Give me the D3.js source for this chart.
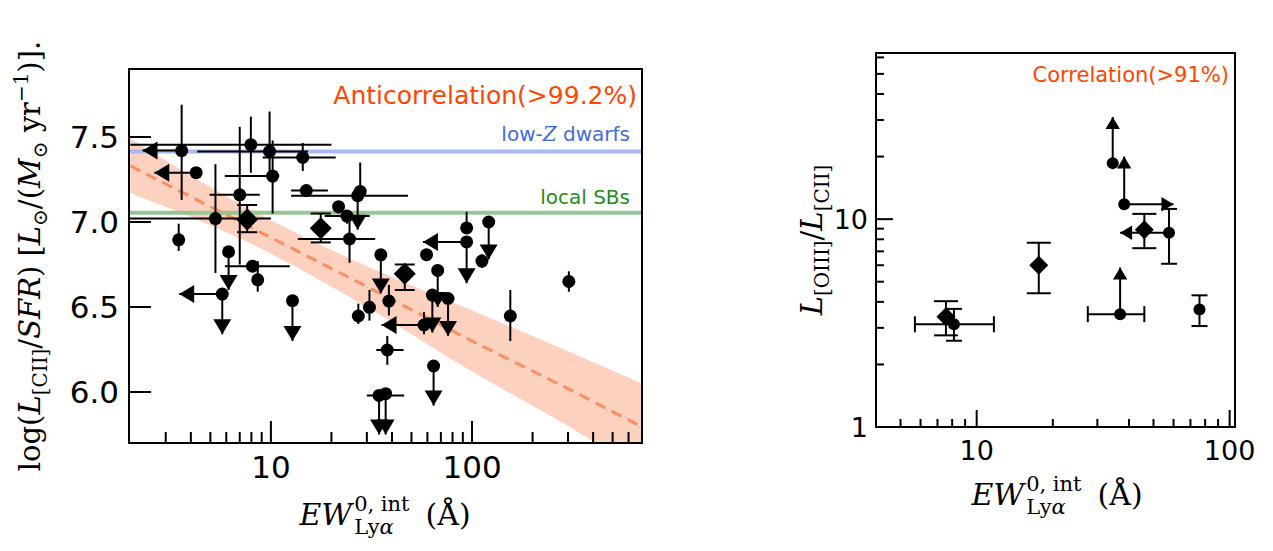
<!DOCTYPE html>
<html><head><meta charset="utf-8">
<script src="https://cdn.jsdelivr.net/npm/d3@7"></script>
<style>body{margin:0;background:#fff}svg{font-family:"DejaVu Sans",sans-serif}</style>
</head><body><svg id="fig" width="1273" height="551"></svg>
<script>
// left panel: circles  [x, y, xlo, xhi, ylo, yhi, leftArrowTo, downArrowTo]
const leftCircles = [
  [3.6, 7.42, null, null, 7.13, 7.69, 2.3, null],
  [4.25, 7.29, null, null, null, null, 2.63, null],
  [7.95, 7.455, 2.0, 20, 7.29, 7.62, null, null],
  [9.85, 7.415, 4.3, 15.3, 7.27, 7.65, null, null],
  [14.4, 7.38, 9.1, 21, 7.30, 7.465, null, null],
  [10.2, 7.27, 5.9, 11.0, 7.05, 7.48, null, null],
  [15.0, 7.185, 12.6, 19.2, null, null, null, null],
  [7.0, 7.16, 4.95, 8.8, 6.75, 7.56, null, null],
  [5.3, 7.02, 1.97, 10, 6.70, 7.34, null, null],
  [3.48, 6.895, null, null, 6.83, 6.99, null, null],
  [6.16, 6.825, null, null, null, null, null, 6.6],
  [8.1, 6.74, 5.9, 12.4, 6.71, 6.77, null, null],
  [8.6, 6.66, null, null, 6.59, 6.77, null, null],
  [5.73, 6.576, null, null, null, null, 3.5, 6.34],
  [12.8, 6.537, null, null, null, null, null, 6.3],
  [24.6, 6.90, 13.6, 33, 6.76, 7.05, null, null],
  [21.7, 7.09, null, null, 7.05, 7.12, null, null],
  [23.9, 7.035, 18.5, 31, 6.99, 7.07, null, null],
  [27.8, 7.18, null, null, null, 7.35, null, null],
  [27.0, 7.155, 12.6, 48, null, null, null, 6.955],
  [35.2, 6.807, null, null, null, null, null, 6.58],
  [30.9, 6.498, null, null, 6.42, 6.60, null, null],
  [27.2, 6.447, null, null, 6.40, 6.52, null, null],
  [38.6, 6.535, null, null, 6.45, 6.63, null, null],
  [59.4, 6.808, null, null, 6.77, 6.84, null, null],
  [94, 6.883, null, null, null, null, 57, 6.64],
  [94, 6.965, null, null, null, 7.06, null, null],
  [121, 7.0, null, null, null, null, null, 6.78],
  [112, 6.77, null, null, 6.73, 6.81, null, null],
  [67.5, 6.715, null, null, null, null, null, 6.5],
  [63.5, 6.57, null, null, null, null, null, 6.35],
  [76, 6.55, null, null, null, null, null, 6.33],
  [57.7, 6.394, null, null, 6.34, 6.47, 35.5, null],
  [37.9, 6.247, 33.4, 45.7, 6.16, 6.33, null, null],
  [64.4, 6.153, null, null, null, null, null, 5.92],
  [34.5, 5.98, 30, 46, null, null, null, 5.75],
  [37.2, 5.99, null, null, null, null, null, 5.75],
  [155, 6.447, null, null, 6.30, 6.60, null, null],
  [303, 6.65, 285, 322, 6.59, 6.71, null, null]
];
// left panel: stacked diamonds [x, y, ylo, yhi]
const leftDiamonds = [
  [7.62, 7.015, 6.94, 7.10],
  [17.7, 6.963, 6.88, 7.05],
  [46.3, 6.695, 6.60, 6.75]
];
const lowZLevel = 7.415, localSBLevel = 7.055;
// anticorrelation fit and 1-sigma band
const fitX = [2, 8, 30, 100, 300, 700];
const fitMid = [7.33, 6.967, 6.62, 6.30, 6.02, 5.795];
const fitLo = [7.17, 6.87, 6.50, 6.12, 5.80, 5.53];
const fitHi = [7.49, 7.07, 6.74, 6.48, 6.24, 6.05];

// right panel circles [x, y, xlo, xhi, ylo, yhi, upArrowTo, rightArrowTo, leftArrowTo]
const rightCircles = [
  [8.13, 3.12, 5.7, 11.7, 2.6, 3.7, null, null, null],
  [34.5, 18.6, null, null, null, null, 31, null, null],
  [38.3, 11.8, null, null, null, null, 20, 60, null],
  [57.6, 8.6, null, null, 6.1, 11.2, null, null, 36.9],
  [36.9, 3.49, 27.5, 46, null, null, 5.85, null, null],
  [76, 3.68, null, null, 3.06, 4.3, null, null, null]
];
const rightDiamonds = [
  [7.56, 3.39, 2.76, 4.03],
  [17.6, 6.0, 4.4, 7.7],
  [46, 8.9, 7.25, 10.6]
];

const svg = d3.select("#fig");

// ---------- left panel ----------
const L = {x0: 129, x1: 642, y0: 69, y1: 443};
const xL = d3.scaleLog().domain([1.97, 700]).range([L.x0, L.x1]);
const yL = d3.scaleLinear().domain([5.70, 7.90]).range([L.y1, L.y0]);
const gL = svg.append("g");
gL.append("clipPath").attr("id", "clipL").append("rect")
  .attr("x", L.x0).attr("y", L.y0).attr("width", L.x1 - L.x0).attr("height", L.y1 - L.y0);
const inL = gL.append("g").attr("clip-path", "url(#clipL)");

const band = fitX.map((x, i) => ({x, lo: fitLo[i], hi: fitHi[i], mid: fitMid[i]}));
inL.append("path").datum(band)
  .attr("d", d3.area().x(d => xL(d.x)).y0(d => yL(d.lo)).y1(d => yL(d.hi)).curve(d3.curveMonotoneX))
  .attr("fill", "#fdc6b0").attr("opacity", 0.8);
inL.append("line").attr("x1", L.x0).attr("x2", L.x1).attr("y1", yL(lowZLevel)).attr("y2", yL(lowZLevel))
  .attr("stroke", "#a9b9ef").attr("stroke-width", 4);
inL.append("line").attr("x1", L.x0).attr("x2", L.x1).attr("y1", yL(localSBLevel)).attr("y2", yL(localSBLevel))
  .attr("stroke", "#93c793").attr("stroke-width", 4);
inL.append("path").datum(band)
  .attr("d", d3.line().x(d => xL(d.x)).y(d => yL(d.mid)))
  .attr("fill", "none").attr("stroke", "#fb8d5f").attr("stroke-width", 3).attr("stroke-dasharray", "11,7");

function arrow(g, x1, y1, x2, y2, head) {
  g.append("line").attr("x1", x1).attr("y1", y1).attr("x2", x2).attr("y2", y2)
    .attr("stroke", "#000").attr("stroke-width", 2);
  const a = Math.atan2(y2 - y1, x2 - x1), h = head, w = head * 0.6;
  const tip = [x2, y2];
  const b1 = [x2 - h * Math.cos(a) + w * Math.sin(a), y2 - h * Math.sin(a) - w * Math.cos(a)];
  const b2 = [x2 - h * Math.cos(a) - w * Math.sin(a), y2 - h * Math.sin(a) + w * Math.cos(a)];
  g.append("path").attr("d", `M${tip}L${b1}L${b2}Z`).attr("fill", "#000");
}
function seg(g, x1, y1, x2, y2) {
  g.append("line").attr("x1", x1).attr("y1", y1).attr("x2", x2).attr("y2", y2)
    .attr("stroke", "#000").attr("stroke-width", 2);
}
function diamond(g, cx, cy, r) {
  g.append("path").attr("d", `M${cx},${cy - r}L${cx + r},${cy}L${cx},${cy + r}L${cx - r},${cy}Z`).attr("fill", "#000");
}

const mk = inL.append("g");
leftCircles.forEach(d => {
  const [x, y, xl, xh, yl, yh, la, da] = d;
  const cx = xL(x), cy = yL(y);
  if (xl != null) seg(mk, xL(xl), cy, xL(xh), cy);
  if (yl != null || yh != null) seg(mk, cx, yL(yl ?? y), cx, yL(yh ?? y));
  if (la != null) arrow(mk, cx, cy, xL(la), cy, 15);
  if (da != null) arrow(mk, cx, cy, cx, yL(da), 15);
  mk.append("circle").attr("cx", cx).attr("cy", cy).attr("r", 6.5).attr("fill", "#000");
});
leftDiamonds.forEach(([x, y, yl, yh]) => {
  const cx = xL(x);
  seg(mk, cx, yL(yl), cx, yL(yh));
  seg(mk, cx - 10, yL(yl), cx + 10, yL(yl));
  seg(mk, cx - 10, yL(yh), cx + 10, yL(yh));
  diamond(mk, cx, yL(y), 11);
});

// axes left
gL.append("rect").attr("x", L.x0).attr("y", L.y0).attr("width", L.x1 - L.x0).attr("height", L.y1 - L.y0)
  .attr("fill", "none").attr("stroke", "#000").attr("stroke-width", 2);
const yTicksL = [6.0, 6.5, 7.0, 7.5];
yTicksL.forEach(v => {
  seg(gL, L.x0, yL(v), L.x0 + 22, yL(v));
  gL.append("text").attr("x", L.x0 - 10).attr("y", yL(v) + 11).attr("text-anchor", "end")
    .attr("font-size", 31).text(v.toFixed(1));
});
xL.ticks().forEach(v => {
  const major = [10, 100].includes(Math.round(v));
  const px = xL(v);
  if (px <= L.x0 + 2 || px >= L.x1) return;
  seg(gL, px, L.y1, px, L.y1 - (major ? 22 : 11));
  if (major) gL.append("text").attr("x", px).attr("y", L.y1 + 35).attr("text-anchor", "middle")
    .attr("font-size", 31).text(v);
});
gL.append("text").attr("x", 637).attr("y", 104).attr("text-anchor", "end").attr("font-size", 25)
  .attr("fill", "#ff4500").text("Anticorrelation(>99.2%)");
const lz = gL.append("text").attr("x", 630).attr("y", 141).attr("text-anchor", "end").attr("font-size", 20).attr("fill", "#4169e1");
lz.append("tspan").text("low-");
lz.append("tspan").attr("font-family", "DejaVu Serif").attr("font-style", "italic").text("Z");
lz.append("tspan").text(" dwarfs");
gL.append("text").attr("x", 630).attr("y", 204).attr("text-anchor", "end").attr("font-size", 20)
  .attr("fill", "#228b22").text("local SBs");

// axis labels (serif, mathtext-like); laid out piecewise then centred
function xlabel(cx, y) {
  const g = svg.append("g").attr("font-family", "DejaVu Serif");
  const t = (x, yy, size, s, it) => g.append("text").attr("x", x).attr("y", yy).attr("font-size", size)
    .attr("font-style", it ? "italic" : "normal").text(s);
  const ew = t(0, y, 30, "EW", true);
  const x1 = ew.node().getComputedTextLength() + 2;
  const sup = t(x1, y - 14, 21, "0, int");
  const sub = g.append("text").attr("x", x1).attr("y", y + 9).attr("font-size", 21);
  sub.append("tspan").text("Ly");
  sub.append("tspan").attr("font-style", "italic").text("α");
  const x2 = x1 + Math.max(sup.node().getComputedTextLength(), sub.node().getComputedTextLength()) + 16;
  const u = t(x2, y, 30, "(Å)");
  const w = x2 + u.node().getComputedTextLength();
  g.attr("transform", `translate(${cx - w / 2},0)`);
}
xlabel(385, 525);
const yl = svg.append("text").attr("transform", "translate(40,256) rotate(-90)").attr("text-anchor", "middle")
  .attr("font-family", "DejaVu Serif").attr("font-size", 29);
yl.append("tspan").text("log(");
yl.append("tspan").attr("font-style", "italic").text("L");
yl.append("tspan").attr("dy", 7).attr("font-size", 20).text("[CII]");
yl.append("tspan").attr("dy", -7).text("/");
yl.append("tspan").attr("font-style", "italic").text("SFR");
yl.append("tspan").text(") [");
yl.append("tspan").attr("font-style", "italic").text("L");
yl.append("tspan").attr("dy", 7).attr("font-size", 20).text("⊙");
yl.append("tspan").attr("dy", -7).text("/(");
yl.append("tspan").attr("font-style", "italic").text("M");
yl.append("tspan").attr("dy", 7).attr("font-size", 20).text("⊙");
yl.append("tspan").attr("dy", -7).text(" yr");
yl.append("tspan").attr("dy", -12).attr("font-size", 20).text("−1");
yl.append("tspan").attr("dy", 12).text(")].");

// ---------- right panel ----------
const R = {x0: 876, x1: 1235, y0: 53, y1: 427};
const xR = d3.scaleLog().domain([4, 105]).range([R.x0, R.x1]);
const yR = d3.scaleLog().domain([1, 63]).range([R.y1, R.y0]);
const gR = svg.append("g");
rightCircles.forEach(d => {
  const [x, y, xl, xh, ylo, yhi, ua, ra, la] = d;
  const cx = xR(x), cy = yR(y);
  if (xl != null) {
    seg(gR, xR(xl), cy, xR(xh), cy);
    seg(gR, xR(xl), cy - 8, xR(xl), cy + 8);
    seg(gR, xR(xh), cy - 8, xR(xh), cy + 8);
  }
  if (ylo != null) {
    seg(gR, cx, yR(ylo), cx, yR(yhi));
    seg(gR, cx - 8, yR(ylo), cx + 8, yR(ylo));
    seg(gR, cx - 8, yR(yhi), cx + 8, yR(yhi));
  }
  if (ua != null) arrow(gR, cx, cy, cx, yR(ua), 12);
  if (ra != null) arrow(gR, cx, cy, xR(ra), cy, 12);
  if (la != null) arrow(gR, cx, cy, xR(la), cy, 12);
  gR.append("circle").attr("cx", cx).attr("cy", cy).attr("r", 6).attr("fill", "#000");
});
rightDiamonds.forEach(([x, y, ylo, yhi]) => {
  const cx = xR(x);
  seg(gR, cx, yR(ylo), cx, yR(yhi));
  seg(gR, cx - 12, yR(ylo), cx + 12, yR(ylo));
  seg(gR, cx - 12, yR(yhi), cx + 12, yR(yhi));
  diamond(gR, cx, yR(y), 9.5);
});
gR.append("rect").attr("x", R.x0).attr("y", R.y0).attr("width", R.x1 - R.x0).attr("height", R.y1 - R.y0)
  .attr("fill", "none").attr("stroke", "#000").attr("stroke-width", 2);
yR.ticks().forEach(v => {
  const major = [1, 10].includes(Math.round(v));
  const py = yR(v);
  if (py < R.y0 || py > R.y1) return;
  seg(gR, R.x0, py, R.x0 + (major ? 17 : 8), py);
  if (major) gR.append("text").attr("x", R.x0 - 8).attr("y", py + 10).attr("text-anchor", "end")
    .attr("font-size", 27).text(v);
});
xR.ticks().forEach(v => {
  const major = [10, 100].includes(Math.round(v));
  const px = xR(v);
  if (px <= R.x0 || px > R.x1) return;
  seg(gR, px, R.y1, px, R.y1 - (major ? 17 : 8));
  if (major) gR.append("text").attr("x", px).attr("y", R.y1 + 33).attr("text-anchor", "middle")
    .attr("font-size", 27).text(v);
});
gR.append("text").attr("x", 1229).attr("y", 82).attr("text-anchor", "end").attr("font-size", 21)
  .attr("fill", "#ff4500").text("Correlation(>91%)");
xlabel(1057, 505);
const yr = svg.append("text").attr("transform", "translate(822,240) rotate(-90)").attr("text-anchor", "middle")
  .attr("font-family", "DejaVu Serif").attr("font-size", 29);
yr.append("tspan").attr("font-style", "italic").text("L");
yr.append("tspan").attr("dy", 7).attr("font-size", 20).text("[OIII]");
yr.append("tspan").attr("dy", -7).text("/");
yr.append("tspan").attr("font-style", "italic").text("L");
yr.append("tspan").attr("dy", 7).attr("font-size", 20).text("[CII]");
</script></body></html>
